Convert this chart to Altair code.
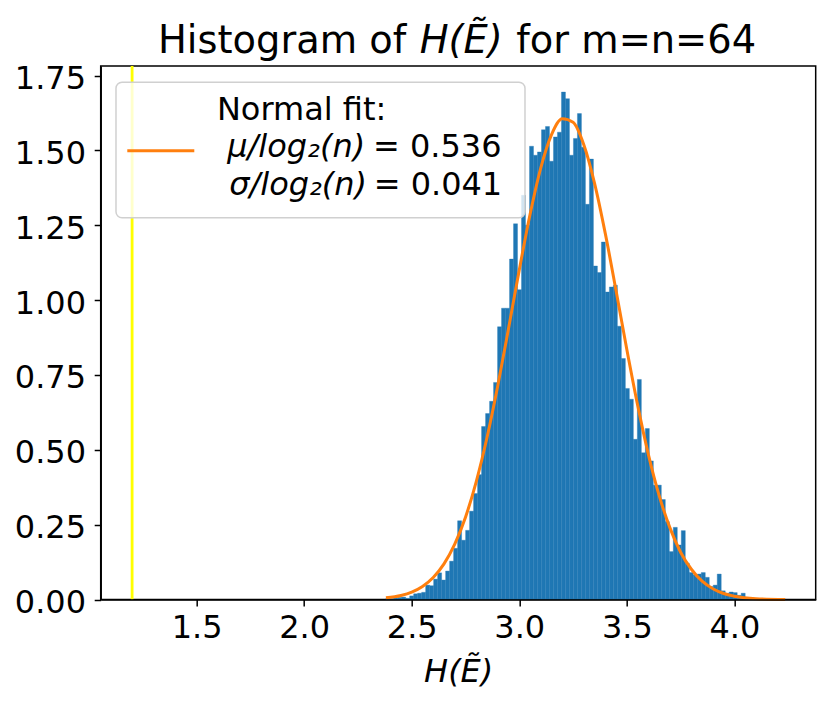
import altair as alt
import pandas as pd

# ---------------- data ----------------
bin_min = 2.379
bin_width = 0.01857
density = [
    0.003, 0.003, 0.005, 0.007, 0.008, 0.004, 0.012, 0.019, 0.021, 0.024,
    0.048, 0.046, 0.068, 0.089, 0.065, 0.095, 0.128, 0.171, 0.263, 0.198,
    0.231, 0.295, 0.354, 0.417, 0.578, 0.621, 0.662, 0.725, 0.911, 0.973,
    0.973, 1.137, 1.255, 1.035, 1.350, 1.250, 1.514, 1.484, 1.495, 1.569,
    1.580, 1.464, 1.545, 1.561, 1.695, 1.673, 1.484, 1.540, 1.623, 1.511,
    1.320, 1.471, 1.114, 1.092, 1.194, 1.027, 1.044, 1.050, 0.913, 0.805,
    0.705, 0.669, 0.535, 0.735, 0.490, 0.571, 0.463, 0.382, 0.382, 0.334,
    0.260, 0.160, 0.241, 0.182, 0.230, 0.121, 0.090, 0.082, 0.085, 0.090,
    0.074, 0.043, 0.048, 0.085, 0.029, 0.021, 0.025, 0.023, 0.014, 0.021,
    0.003, 0.002, 0.000, 0.002, 0.000, 0.000, 0.000, 0.000, 0.000, 0.002,
]

curve_x = [2.38, 2.45, 2.50, 2.55, 2.60, 2.65, 2.70, 2.75, 2.80, 2.85,
           2.90, 2.95, 3.00, 3.05, 3.10, 3.15, 3.20, 3.25, 3.30, 3.35,
           3.40, 3.45, 3.50, 3.55, 3.60, 3.65, 3.70, 3.75, 3.80, 3.85,
           3.90, 3.95, 4.00, 4.10, 4.236]
curve_y = [0.0055, 0.0136, 0.0249, 0.0438, 0.0736, 0.119, 0.185, 0.275, 0.394, 0.541,
           0.714, 0.905, 1.101, 1.286, 1.442, 1.553, 1.606, 1.594, 1.519, 1.390,
           1.222, 1.031, 0.835, 0.650, 0.485, 0.348, 0.240, 0.158, 0.101, 0.061,
           0.036, 0.020, 0.011, 0.0028, 0.0003]

marker_x = [1.2]

x_ticks = [1.5, 2.0, 2.5, 3.0, 3.5, 4.0]
y_ticks = [0.0, 0.25, 0.5, 0.75, 1.0, 1.25, 1.5, 1.75]
x_domain = [1.054, 4.378]
y_domain = [0.0, 1.782]

title_parts = ["Histogram of", "H(Ẽ)", "for m=n=64"]
legend_lines = ["Normal fit:", "μ/log₂(n)", "= 0.536", "σ/log₂(n)", "= 0.041"]
x_title = "H(Ẽ)"

# ---------------- tables ----------------
bars = pd.DataFrame({
    "x": [bin_min + i * bin_width for i in range(len(density))],
    "y": density,
})
bars["x2"] = bars["x"] + bin_width
bars["y2"] = 0.0
curve = pd.DataFrame({"x": curve_x, "y": curve_y})
marker = pd.DataFrame({"x": marker_x})
one = pd.DataFrame({"k": [0]})

FONT = "DejaVu Sans"
BLUE = "#1f77b4"
ORANGE = "#ff7f0e"

xscale = alt.Scale(domain=x_domain, nice=False, zero=False)
yscale = alt.Scale(domain=y_domain, nice=False)

xaxis = alt.Axis(values=x_ticks, format=".1f", labelFontSize=32, labelFont=FONT,
                 labelColor="black", tickColor="black", tickWidth=1.5, tickSize=6.5,
                 labelPadding=6.5, domainColor="black", domainWidth=1.5, grid=False,
                 title=x_title, titleFont=FONT, titleFontSize=32, titleFontStyle="italic",
                 titleFontWeight="normal", titleColor="black", titleY=57, zindex=1)
yaxis = alt.Axis(values=y_ticks, format=".2f", labelFontSize=32, labelFont=FONT,
                 labelColor="black", tickColor="black", tickWidth=1.5, tickSize=6.5,
                 labelPadding=8.7, labelOffset=3, domainColor="black", domainWidth=1.5,
                 grid=False, title=None, zindex=1)


def X(field="x"):
    return alt.X(f"{field}:Q", scale=xscale, axis=xaxis)


def Y(field="y"):
    return alt.Y(f"{field}:Q", scale=yscale, axis=yaxis)


hist = alt.Chart(bars).mark_rect(color=BLUE, stroke=BLUE, strokeWidth=0.35).encode(
    x=X(), x2="x2:Q", y=Y(), y2="y2:Q"
)

fit = alt.Chart(curve).mark_line(color=ORANGE, strokeWidth=3,
                                 interpolate="monotone").encode(x=X(), y=Y())

vline = alt.Chart(marker).mark_rule(color="#ffff00", strokeWidth=2.8).encode(x=X())

# legend (matplotlib-style box)
leg_box = alt.Chart(one).mark_rect(fill="white", fillOpacity=0.8, stroke="#d0d0d0",
                                   strokeWidth=1.5, cornerRadius=6).encode(
    x=alt.value(15.3), x2=alt.value(424.3), y=alt.value(16.3), y2=alt.value(151.7)
)
leg_line = alt.Chart(one).mark_rule(color=ORANGE, strokeWidth=3).encode(
    x=alt.value(26.6), x2=alt.value(93.6), y=alt.value(84.7)
)


def txt(s, x, y, size=32, align="left", style="normal"):
    return alt.Chart(one).mark_text(text=s, font=FONT, fontSize=size, align=align,
                                    baseline="alphabetic", fontStyle=style,
                                    color="black").encode(x=alt.value(x), y=alt.value(y))


leg_texts = [
    txt(legend_lines[0], 116.2, 54),
    txt(legend_lines[1], 126.5, 90.7, style="italic"),
    txt(legend_lines[2], 400.8, 90.7, align="right"),
    txt(legend_lines[3], 128.5, 129, style="italic"),
    txt(legend_lines[4], 401.5, 129, align="right"),
]

title_texts = [
    txt(title_parts[0], 57.3, -12.7, size=38.4),
    txt(title_parts[1], 319.0, -12.7, size=38.4, style="italic"),
    txt(title_parts[2], 415.6, -12.7, size=38.4),
]

chart = alt.layer(hist, fit, vline, leg_box, leg_line, *leg_texts, *title_texts).properties(
    width=715,
    height=533.5,
    autosize=alt.AutoSizeParams(type="none"),
    padding={"left": 92.7, "top": 58, "right": 7, "bottom": 95},
).configure(font=FONT).configure_view(stroke="black", strokeWidth=1.5)

chart.save("out.html", embed_options={"renderer": "svg", "actions": False})
